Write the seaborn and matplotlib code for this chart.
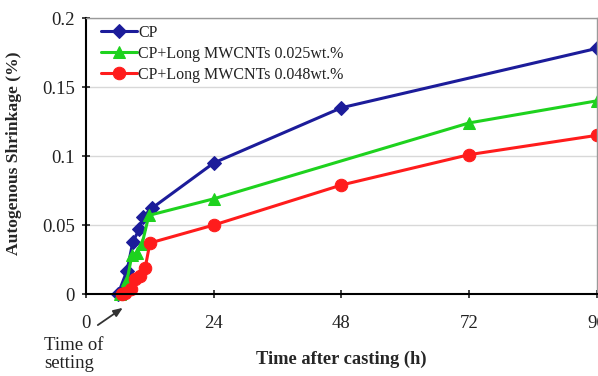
import matplotlib
matplotlib.use("Agg")
import matplotlib.pyplot as plt
import seaborn as sns
import pandas as pd

# Autogenous shrinkage measurements (time in hours after casting, shrinkage in %)
cp_time = [6.0, 7.7, 8.8, 10.0, 10.7, 12.3, 24, 48, 96]
cp_shrink = [0.0, 0.017, 0.038, 0.047, 0.056, 0.062, 0.095, 0.135, 0.178]

cnt025_time = [6.4, 7.7, 8.6, 9.5, 10.5, 11.8, 24, 72, 96]
cnt025_shrink = [0.0, 0.010, 0.028, 0.030, 0.036, 0.057, 0.069, 0.124, 0.140]

cnt048_time = [6.7, 7.3, 8.5, 9.2, 10.1, 11.1, 12.0, 24, 48, 72, 96]
cnt048_shrink = [0.0, 0.001, 0.004, 0.011, 0.013, 0.019, 0.037, 0.050, 0.079, 0.101, 0.115]

series_names = ["CP", "CP+Long MWCNTs 0.025wt.%", "CP+Long MWCNTs 0.048wt.%"]
x_ticks = [0, 24, 48, 72, 96]
y_ticks = [0, 0.05, 0.1, 0.15, 0.2]
y_tick_labels = ["0", "0.05", "0.1", "0.15", "0.2"]

frames = []
for name, t, s in zip(series_names,
                      [cp_time, cnt025_time, cnt048_time],
                      [cp_shrink, cnt025_shrink, cnt048_shrink]):
    frames.append(pd.DataFrame({"time": t, "shrink": s, "series": name}))
df = pd.concat(frames, ignore_index=True)

sns.set_style("white")
plt.rcParams["font.family"] = ["Liberation Serif", "DejaVu Serif"]

fig = plt.figure(figsize=(5.98, 3.76), dpi=100)
ax = fig.add_axes([0.144, 0.218, 0.854, 0.734])

palette = {series_names[0]: "#1c1c9a", series_names[1]: "#1ed21e", series_names[2]: "#ff1c1c"}
markers = {series_names[0]: "D", series_names[1]: "^", series_names[2]: "o"}
sizes = {series_names[0]: 7.5, series_names[1]: 8, series_names[2]: 9}

for name in series_names:
    sub = df[df["series"] == name]
    sns.lineplot(data=sub, x="time", y="shrink", ax=ax, color=palette[name],
                 marker=markers[name], markersize=sizes[name], markeredgecolor=palette[name],
                 linewidth=2.2, label=name, sort=False, clip_on=False)

ax.set_xlim(0, 96)
ax.set_ylim(0, 0.2)
ax.set_xticks(x_ticks)
ax.set_xticklabels([str(v) for v in x_ticks])
ax.set_yticks(y_ticks)
ax.set_yticklabels(y_tick_labels)
ax.yaxis.grid(True, color="#d8d8d8", linewidth=1)
ax.xaxis.grid(False)

for side in ["left", "bottom"]:
    ax.spines[side].set_color("black")
    ax.spines[side].set_linewidth(1.5)
for side in ["top", "right"]:
    ax.spines[side].set_color("#9a9a9a")
    ax.spines[side].set_linewidth(1.0)

ax.tick_params(axis="both", labelsize=13.5, colors="#222222", direction="inout",
               length=6, width=1.2, bottom=True, left=True)
ax.tick_params(axis="x", pad=12)
ax.tick_params(axis="y", pad=5)

ax.set_xlabel("Time after casting (h)", fontsize=13.3, fontweight="bold")
ax.set_ylabel("Autogenous Shrinkage (%)", fontsize=12.6, fontweight="bold")
ax.xaxis.set_label_coords(0.5, -0.205)
ax.yaxis.set_label_coords(-0.125, 0.51)

leg = ax.legend(loc="upper left", frameon=False, fontsize=11.5, handlelength=2.3,
                handletextpad=0.05, labelspacing=0.3, borderaxespad=0.0,
                bbox_to_anchor=(0.016, 0.998))
for t in leg.get_texts():
    t.set_color("#222222")

# setting-time annotation below the axis
ax.annotate("", xy=(6.9, -0.010), xytext=(2.2, -0.0225), xycoords="data",
            annotation_clip=False,
            arrowprops=dict(arrowstyle="-|>,head_length=0.55,head_width=0.22",
                            color="#333333", lw=1.3, shrinkA=0, shrinkB=0))
fig.text(0.074, 0.103, "Time of\nsetting", fontsize=13.5, color="#222222",
         ha="left", va="top", linespacing=1.08)

fig.savefig("out.png", dpi=100)
